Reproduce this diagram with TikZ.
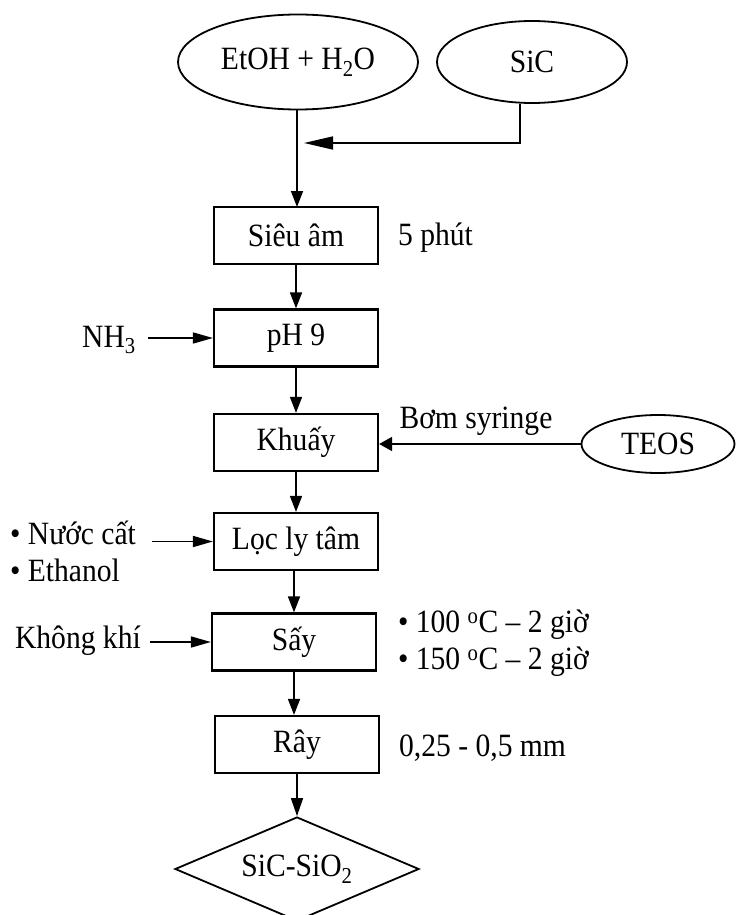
\documentclass[tikz,border=0pt]{standalone}
\usepackage{fontspec}
\setmainfont{Liberation Serif}[FakeStretch=0.91]
\usetikzlibrary{shapes.geometric,arrows.meta}
\begin{document}
\begin{tikzpicture}[x=1pt,y=-1pt,
  font=\fontsize{32.5}{37}\selectfont,
  stepbox/.style={draw,line width=2.2pt,minimum width=164pt,minimum height=57pt,inner sep=0pt},
  oval/.style={draw,ellipse,line width=1.8pt,inner sep=0pt},
  lbl/.style={inner sep=0pt},
  arr/.style={line width=1.6pt,-{Triangle[length=16pt,width=12pt]}},
  sidearr/.style={line width=1.6pt,-{Triangle[length=20pt,width=11pt]}}
]
\useasboundingbox (0,0) rectangle (738,915);
% sources
\node[oval,minimum width=240pt,minimum height=95pt] (e1) at (298,62) {EtOH + H\textsubscript{2}O};
\node[oval,minimum width=190pt,minimum height=82pt] (e2) at (532,62) {SiC};
\node[oval,minimum width=153pt,minimum height=58pt] (teos) at (658,444) {TEOS};
% process steps
\node[stepbox] (b1) at (296,235.5) {Siêu âm};
\node[stepbox] (b2) at (296,338) {pH 9};
\node[stepbox] (b3) at (296,442.5) {Khuấy};
\node[stepbox] (b4) at (296,541.5) {Lọc ly tâm};
\node[stepbox] (b5) at (294,642) {Sấy};
\node[stepbox] (b6) at (297,744.5) {Rây};
\node[draw,diamond,line width=1.8pt,aspect=2.35,minimum width=244pt,minimum height=104pt,inner sep=0pt] (d) at (297,869) {SiC-SiO\textsubscript{2}};
% main flow
\coordinate (j) at (304,143);
\draw[arr] (e1.south -| 297,0) -- (297,207);
\draw[line width=1.6pt,-{Triangle[length=29pt,width=13pt]}] (e2.254) |- (j);
\draw[arr] (b1.south) -- (b2.north);
\draw[arr] (b2.south) -- (b3.north);
\draw[arr] (b3.south) -- (b4.north);
\draw[arr] (b4.south -| b5.north) -- (b5.north);
\draw[arr] (b5.south) -- (b5.south |- b6.north);
\draw[arr,-{Triangle[length=18pt,width=12pt]}] (b6.south) -- (d.north);
% side inputs
\node[lbl] (nh3) at (109,340) {NH\textsubscript{3}};
\draw[sidearr,shorten <=12pt] (nh3.east |- b2.west) -- (b2.west);
\node[lbl] (bom) at (476,421) {Bơm syringe};
\draw[line width=1.6pt,-{Triangle[length=13pt,width=14pt]}] (teos.west) -- (b3.east |- teos.west);
\node[lbl,align=left,anchor=west] (nuoc) at (10,551) {• Nước cất\\• Ethanol};
\draw[sidearr] (152,541.5) -- (b4.west);
\node[lbl,anchor=east] (kk) at (141,641) {Không khí};
\draw[sidearr,shorten <=9pt] (kk.east |- b5.west) -- (b5.west);
% side notes
\node[lbl,anchor=west] (t1) at (398,238) {5 phút};
\node[lbl,align=left,anchor=west] (t5) at (398,643) {• 100 \textsuperscript{o}C – 2 giờ\\• 150 \textsuperscript{o}C – 2 giờ};
\node[lbl,anchor=west] (t6) at (399,748) {0,25 - 0,5 mm};
\end{tikzpicture}
\end{document}
